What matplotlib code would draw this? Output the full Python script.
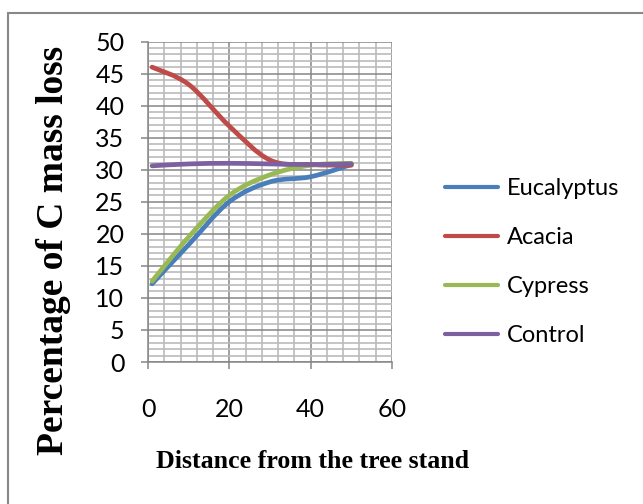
#!/usr/bin/env python3
"""C mass loss vs distance from the tree stand (smoothed lines, Excel style)."""

import numpy as np
import matplotlib
matplotlib.use("Agg")
import matplotlib.pyplot as plt
from matplotlib.path import Path
from matplotlib.patches import PathPatch, Rectangle
from matplotlib.lines import Line2D

distance = [1, 10, 20, 30, 40, 50]
eucalyptus = [12.2, 18.3, 25.0, 28.1, 28.9, 30.8]
acacia = [46.0, 43.3, 36.8, 31.5, 30.8, 30.7]
cypress = [12.6, 19.5, 26.0, 29.2, 30.7, 31.0]
control = [30.6, 30.9, 31.0, 30.9, 30.8, 30.9]

series_names = ["Eucalyptus", "Acacia", "Cypress", "Control"]
series_values = [eucalyptus, acacia, cypress, control]
colors = ["#4A7EBB", "#BE4B48", "#98B954", "#7D60A0"]

x_ticks = [0, 20, 40, 60]
y_ticks = list(range(0, 51, 5))


def smooth_path(xs, ys):
    """Catmull-Rom style bezier through the points (like Excel 'smoothed line')."""
    pts = np.column_stack([xs, ys]).astype(float)
    n = len(pts)
    verts = [pts[0]]
    codes = [Path.MOVETO]
    for i in range(n - 1):
        p0 = pts[i - 1] if i > 0 else pts[i]
        p1 = pts[i]
        p2 = pts[i + 1]
        p3 = pts[i + 2] if i + 2 < n else pts[i + 1]
        c1 = p1 + (p2 - p0) / 6.0
        c2 = p2 - (p3 - p1) / 6.0
        verts += [c1, c2, p2]
        codes += [Path.CURVE4] * 3
    return Path(verts, codes)


W, H = 643, 504
fig = plt.figure(figsize=(W / 100, H / 100), dpi=100)
ax = fig.add_axes([148 / W, 1 - 362 / H, (392 - 148) / W, (362 - 41.5) / H])

tick_font = "Lato"
label_font = "Liberation Serif"

ax.set_xlim(0, 60)
ax.set_ylim(0, 50)
ax.set_xticks(x_ticks)
ax.set_yticks(y_ticks)
ax.set_xticks(np.arange(0, 61, 4), minor=True)
ax.set_yticks(np.arange(0, 51, 1), minor=True)

ax.grid(which="minor", color="#BBBBBB", linewidth=1.2)
ax.grid(which="major", color="#868686", linewidth=1.1)
ax.set_axisbelow(True)

for side in ("top", "right"):
    ax.spines[side].set_visible(False)
for side in ("left", "bottom"):
    ax.spines[side].set_color("#868686")
    ax.spines[side].set_linewidth(1.1)

ax.tick_params(which="minor", length=0)
ax.tick_params(axis="x", which="major", length=5, width=1.1, color="#868686",
               pad=21, labelsize=18)
ax.tick_params(axis="y", which="major", length=5, width=1.1, color="#868686",
               pad=12, labelsize=18)
for lab in ax.get_xticklabels() + ax.get_yticklabels():
    lab.set_fontfamily(tick_font)

for vals, col in zip(series_values, colors):
    patch = PathPatch(smooth_path(distance, vals), facecolor="none", edgecolor=col,
                      linewidth=3.4, capstyle="round", joinstyle="round")
    ax.add_patch(patch)

handles = [Line2D([0], [0], color=c, linewidth=3.0, solid_capstyle="round") for c in colors]
fig.legend(handles, series_names, loc="center left", bbox_to_anchor=(445 / W, 1 - 262 / H),
           frameon=False, borderpad=0, borderaxespad=0, handlelength=2.25,
           handletextpad=0.38, labelspacing=1.19,
           prop={"family": tick_font, "size": 17})

fig.text(313 / W, 1 - 461 / H, "Distance from the tree stand", ha="center", va="center",
         fontfamily=label_font, fontweight="bold", fontsize=18.6)
fig.text(54 / W, 1 - 250 / H, "Percentage of C mass loss", ha="center", va="center",
         rotation=90, fontfamily=label_font, fontweight="bold", fontsize=27)

# outer chart border (right and bottom edges fall outside the picture)
fig.patches.append(Rectangle((8 / W, -0.1), 1.2, 1 - 12.5 / H + 0.1, transform=fig.transFigure,
                             fill=False, edgecolor="#888888", linewidth=1.5))

fig.savefig("out.png", dpi=100)
